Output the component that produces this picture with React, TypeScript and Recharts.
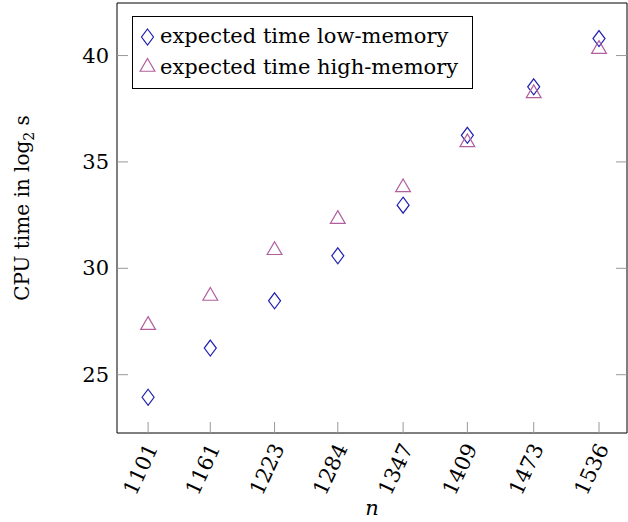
import { ScatterChart, Scatter, XAxis, YAxis } from "recharts";

const nValues = [1101, 1161, 1223, 1284, 1347, 1409, 1473, 1536];
const lowMemory = [23.94, 26.25, 28.47, 30.59, 32.97, 36.25, 38.53, 40.8];
const highMemory = [27.33, 28.7, 30.85, 32.31, 33.8, 35.92, 38.22, 40.3];
const yTicks = [25, 30, 35, 40];

const FONT = "'DejaVu Serif', serif";
const BLUE = "#1f1fb0";
const VIOLET = "#b25f9f";
const TICK = "#999";

const lowData = nValues.map((n, i) => ({ n, t: lowMemory[i] }));
const highData = nValues.map((n, i) => ({ n, t: highMemory[i] }));

const Diamond = ({ cx, cy }: { cx?: number; cy?: number }) => {
  if (cx == null || cy == null) return null;
  return (
    <path
      d={`M${cx},${cy - 8}L${cx + 6},${cy}L${cx},${cy + 8}L${cx - 6},${cy}Z`}
      fill="none"
      stroke={BLUE}
      strokeWidth={1.2}
    />
  );
};

const Triangle = ({ cx, cy }: { cx?: number; cy?: number }) => {
  if (cx == null || cy == null) return null;
  return (
    <path
      d={`M${cx},${cy - 8.5}L${cx + 7.4},${cy + 4.25}L${cx - 7.4},${cy + 4.25}Z`}
      fill="none"
      stroke={VIOLET}
      strokeWidth={1.2}
    />
  );
};

// ticks point inward, pgfplots style
const BottomTick = ({ x, y, payload }: any) => (
  <g>
    <line x1={x} y1={y} x2={x} y2={y - 11} stroke={TICK} />
    <text
      x={x + 4}
      y={y + 12}
      transform={`rotate(-65, ${x + 4}, ${y + 12})`}
      textAnchor="end"
      dominantBaseline="central"
      fontFamily={FONT}
      fontSize={21}
      fill="#000"
    >
      {payload.value}
    </text>
  </g>
);

const TopTick = ({ x, y }: any) => <line x1={x} y1={y} x2={x} y2={y + 11} stroke={TICK} />;

const LeftTick = ({ x, y, payload }: any) => (
  <g>
    <line x1={x} y1={y} x2={x + 11} y2={y} stroke={TICK} />
    <text
      x={x - 8}
      y={y}
      textAnchor="end"
      dominantBaseline="central"
      fontFamily={FONT}
      fontSize={21}
      fill="#000"
    >
      {payload.value}
    </text>
  </g>
);

const RightTick = ({ x, y }: any) => <line x1={x} y1={y} x2={x - 11} y2={y} stroke={TICK} />;

export default function App() {
  return (
    <div style={{ position: "absolute", left: 0, top: 0, background: "#fff" }}>
      <ScatterChart width={628} height={522} margin={{ top: 2, right: 0, bottom: 0, left: 0 }}>
        <XAxis
          type="number"
          dataKey="n"
          xAxisId="bottom"
          domain={[1071, 1563]}
          ticks={nValues}
          allowDataOverflow
          height={89}
          tickLine={false}
          tickSize={0}
          tickMargin={0}
          axisLine={{ stroke: "#000" }}
          tick={<BottomTick />}
          interval={0}
        />
        <XAxis
          type="number"
          xAxisId="top"
          orientation="top"
          domain={[1071, 1563]}
          ticks={nValues}
          allowDataOverflow
          height={1}
          tickLine={false}
          tickSize={0}
          tickMargin={0}
          axisLine={{ stroke: "#000" }}
          tick={<TopTick />}
          interval={0}
        />
        <YAxis
          type="number"
          dataKey="t"
          yAxisId="left"
          domain={[22.26, 42.47]}
          ticks={yTicks}
          allowDataOverflow
          width={117}
          tickLine={false}
          tickSize={0}
          tickMargin={0}
          axisLine={{ stroke: "#000" }}
          tick={<LeftTick />}
          interval={0}
        />
        <YAxis
          type="number"
          yAxisId="right"
          orientation="right"
          domain={[22.26, 42.47]}
          ticks={yTicks}
          allowDataOverflow
          width={1}
          tickLine={false}
          tickSize={0}
          tickMargin={0}
          axisLine={{ stroke: "#000" }}
          tick={<RightTick />}
          interval={0}
        />
        <Scatter
          name="expected time low-memory"
          data={lowData}
          xAxisId="bottom"
          yAxisId="left"
          shape={<Diamond />}
          isAnimationActive={false}
        />
        <Scatter
          name="expected time high-memory"
          data={highData}
          xAxisId="bottom"
          yAxisId="left"
          shape={<Triangle />}
          isAnimationActive={false}
        />
      </ScatterChart>
      <svg width={628} height={522} style={{ position: "absolute", left: 0, top: 0, pointerEvents: "none" }}>
        <g transform="translate(132, 16)">
          <rect x={0.5} y={0.5} width={340} height={72} fill="#fff" stroke="#000" />
          <Diamond cx={15.5} cy={21} />
          <Triangle cx={15.5} cy={51} />
          <text x={28} y={27} fontFamily={FONT} fontSize={21} fill="#000">
            expected time low-memory
          </text>
          <text x={28} y={57.5} fontFamily={FONT} fontSize={21} fill="#000">
            expected time high-memory
          </text>
        </g>
        <text
          x={29}
          y={208}
          transform="rotate(-90, 29, 208)"
          textAnchor="middle"
          fontFamily={FONT}
          fontSize={20}
          fill="#000"
        >
          CPU time in log
          <tspan fontSize={14} dy={5}>2</tspan>
          <tspan dy={-5}> s</tspan>
        </text>
        <text x={372} y={515} textAnchor="middle" fontFamily={FONT} fontStyle="italic" fontSize={21} fill="#000">
          n
        </text>
      </svg>
    </div>
  );
}
